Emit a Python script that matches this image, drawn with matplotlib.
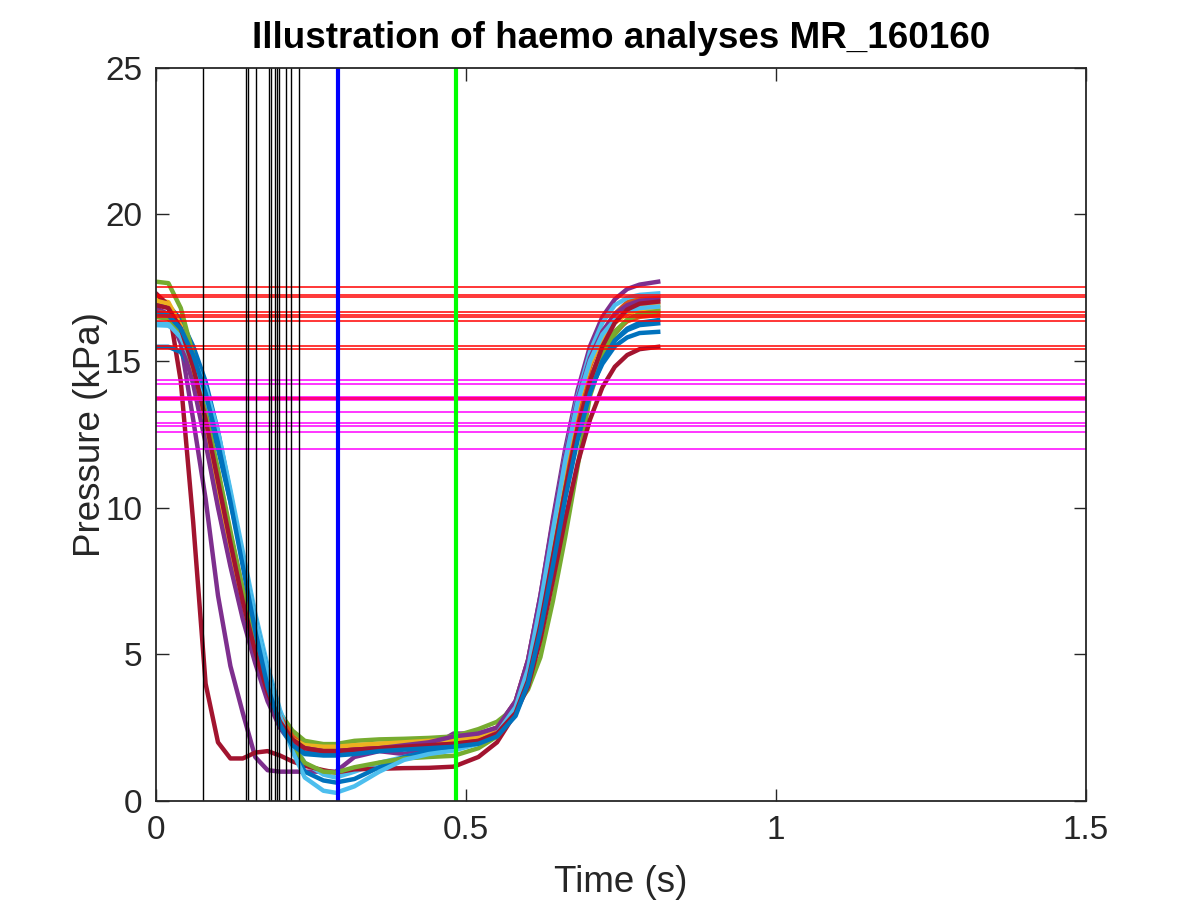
import matplotlib
matplotlib.use("Agg")
import matplotlib.pyplot as plt

# Time grid (s) shared by all the pressure traces
t = [0.00, 0.02, 0.04, 0.06, 0.08, 0.10, 0.12, 0.14, 0.16, 0.18,
     0.20, 0.22, 0.24, 0.27, 0.29, 0.32, 0.36, 0.40, 0.44, 0.48,
     0.52, 0.55, 0.58, 0.60, 0.62, 0.64, 0.66, 0.68, 0.70, 0.72,
     0.74, 0.76, 0.78, 0.81]

# Pressure traces (kPa), one per beat
beat_01 = [16.96, 16.9, 16.4, 15.5, 14.3, 12.6, 10.5, 8.2, 5.6, 3.7,
           2.5, 1.9, 1.65, 1.6, 1.6, 1.7, 1.75, 1.8, 1.85, 1.9,
           2.0, 2.3, 3.1, 4.2, 6.0, 8.3, 10.6, 12.6, 14.1, 15.1,
           15.7, 16.1, 16.3, 16.39]
beat_02 = [16.5, 16.45, 15.8, 14.5, 12.8, 10.8, 8.8, 6.9, 5.2, 3.8,
           2.8, 2.2, 1.9, 1.8, 1.8, 1.85, 1.9, 1.95, 2.0, 2.05,
           2.2, 2.5, 3.3, 4.6, 6.5, 8.9, 11.3, 13.3, 14.8, 15.9,
           16.6, 17.0, 17.15, 17.19]
beat_03 = [17.1, 17.0, 16.2, 14.6, 12.5, 10.2, 8.2, 6.4, 4.9, 3.6,
           2.7, 2.2, 1.95, 1.85, 1.85, 1.9, 1.95, 2.0, 2.05, 2.1,
           2.2, 2.5, 3.4, 4.8, 6.9, 9.3, 11.6, 13.5, 14.9, 15.8,
           16.3, 16.6, 16.75, 16.79]
beat_04 = [16.79, 16.6, 15.6, 13.0, 10.3, 7.0, 4.6, 3.0, 1.5, 1.05,
           1.0, 1.0, 1.0, 1.0, 1.0, 1.5, 1.7, 1.6, 1.8, 2.3,
           2.3, 2.5, 3.4, 4.8, 7.0, 9.6, 12.0, 14.0, 15.5, 16.5,
           17.1, 17.45, 17.6, 17.7]
beat_05 = [17.7, 17.65, 16.8, 15.2, 13.3, 11.0, 9.0, 7.1, 5.4, 4.0,
           3.0, 2.4, 2.05, 1.94, 1.94, 2.05, 2.1, 2.12, 2.15, 2.2,
           2.45, 2.7, 3.2, 3.8, 4.9, 6.8, 9.0, 11.4, 13.8, 15.1,
           15.9, 16.4, 16.6, 16.68]
beat_06 = [16.22, 16.2, 15.9, 15.1, 14.1, 12.6, 10.6, 8.5, 6.4, 4.6,
           3.1, 2.0, 1.3, 0.9, 0.8, 1.0, 1.3, 1.5, 1.65, 1.8,
           2.0, 2.3, 3.3, 4.7, 6.9, 9.4, 11.8, 13.8, 15.3, 16.3,
           16.9, 17.15, 17.25, 17.3]
beat_07 = [17.3, 16.9, 14.3, 9.5, 4.0, 2.0, 1.45, 1.45, 1.65, 1.7,
           1.55, 1.35, 1.2, 1.05, 0.97, 1.08, 1.1, 1.12, 1.13, 1.17,
           1.5, 2.0, 3.0, 3.9, 5.5, 7.5, 9.6, 11.5, 13.0, 14.1,
           14.8, 15.2, 15.4, 15.48]
beat_08 = [15.48, 15.48, 15.3, 14.6, 13.5, 12.0, 10.2, 8.2, 6.2, 4.4,
           2.9, 1.8, 1.0, 0.7, 0.63, 0.75, 1.15, 1.5, 1.7, 1.85,
           2.0, 2.3, 3.1, 4.3, 6.3, 8.6, 10.8, 12.7, 14.0, 14.9,
           15.5, 15.8, 15.95, 15.99]
beat_09 = [16.68, 16.6, 16.0, 14.9, 13.2, 11.2, 9.1, 7.2, 5.5, 4.0,
           2.9, 2.2, 1.85, 1.75, 1.75, 1.8, 1.85, 1.9, 1.95, 2.0,
           2.15, 2.45, 3.2, 4.4, 6.3, 8.6, 10.9, 12.9, 14.4, 15.4,
           16.0, 16.35, 16.5, 16.56]
beat_10 = [17.05, 16.95, 16.1, 14.4, 12.3, 10.1, 8.1, 6.3, 4.8, 3.5,
           2.6, 2.1, 1.9, 1.85, 1.85, 1.9, 1.95, 2.0, 2.05, 2.1,
           2.2, 2.5, 3.3, 4.6, 6.7, 9.1, 11.5, 13.5, 15.0, 16.0,
           16.5, 16.8, 16.88, 16.91]
beat_11 = [16.68, 16.5, 15.7, 14.2, 12.2, 10.0, 8.0, 6.2, 4.7, 3.4,
           2.5, 2.0, 1.8, 1.7, 1.7, 1.75, 1.8, 1.9, 2.0, 2.2,
           2.3, 2.5, 3.4, 4.8, 7.0, 9.5, 11.8, 13.7, 15.1, 16.0,
           16.6, 16.9, 17.05, 17.1]
beat_12 = [16.5, 16.45, 15.9, 14.8, 13.2, 11.3, 9.2, 7.2, 5.4, 3.9,
           2.7, 1.9, 1.3, 1.0, 0.97, 1.15, 1.31, 1.45, 1.5, 1.54,
           1.8, 2.2, 3.0, 4.1, 6.0, 8.3, 10.6, 12.6, 14.2, 15.3,
           16.0, 16.4, 16.6, 16.7]
beat_13 = [16.3, 16.25, 15.8, 14.9, 13.8, 12.3, 10.4, 8.3, 6.2, 4.4,
           2.9, 1.7, 0.8, 0.35, 0.28, 0.5, 1.0, 1.4, 1.6, 1.72,
           1.95, 2.3, 3.2, 4.5, 6.7, 9.2, 11.6, 13.6, 15.0, 15.9,
           16.4, 16.7, 16.8, 16.85]
beat_14 = [16.9, 16.8, 16.1, 14.8, 13.0, 10.9, 8.8, 6.8, 5.1, 3.7,
           2.7, 2.1, 1.8, 1.7, 1.7, 1.75, 1.8, 1.85, 1.9, 1.95,
           2.05, 2.3, 3.0, 4.1, 6.0, 8.3, 10.6, 12.7, 14.3, 15.5,
           16.3, 16.75, 16.95, 17.02]
beat_15 = [16.6, 16.55, 16.1, 15.2, 13.9, 12.2, 10.2, 8.0, 5.8, 3.9,
           2.6, 1.9, 1.6, 1.55, 1.55, 1.6, 1.7, 1.75, 1.8, 1.85,
           1.95, 2.2, 2.9, 4.0, 5.8, 8.0, 10.3, 12.3, 13.9, 15.0,
           15.7, 16.05, 16.22, 16.28]

beats = [beat_01, beat_02, beat_03, beat_04, beat_05, beat_06, beat_07, beat_08,
         beat_09, beat_10, beat_11, beat_12, beat_13, beat_14, beat_15]

# Detected levels (kPa) and events (s)
red_levels = [17.53, 17.25, 17.17, 16.68, 16.56, 16.50, 16.37, 15.51, 15.40]
magenta_levels = [14.34, 14.21, 13.76, 13.68, 13.26, 12.87, 12.77, 12.58, 11.99]
pink_levels = [13.72]
black_times = [0.0753, 0.145, 0.148, 0.161, 0.183, 0.185, 0.192, 0.195,
               0.199, 0.210, 0.218, 0.231]
blue_time = 0.293
green_time = 0.484

# MATLAB default colour order
matlab_colors = [(0, 0.447, 0.741), (0.85, 0.325, 0.098), (0.929, 0.694, 0.125),
                 (0.494, 0.184, 0.556), (0.466, 0.674, 0.188), (0.301, 0.745, 0.933),
                 (0.635, 0.078, 0.184)]

plt.rcParams['font.family'] = ['Liberation Sans', 'DejaVu Sans']
axcol = (0.15, 0.15, 0.15)

fig = plt.figure(figsize=(12, 9), dpi=100)
ax = fig.add_axes([0.13, 0.11, 0.775, 0.815])

# pressure traces
for i, p in enumerate(beats):
    ax.plot(t, p, color=matlab_colors[i % 7], linewidth=3.2, solid_joinstyle='round')

# horizontal levels
for y in red_levels:
    ax.axhline(y, color=(1, 0, 0), linewidth=1.1)
for y in magenta_levels:
    ax.axhline(y, color=(1, 0, 1), linewidth=1.1)
for y in pink_levels:
    ax.axhline(y, color=(1, 0, 0.5), linewidth=2.2)

# vertical events
for x in black_times:
    ax.axvline(x, color='k', linewidth=1.0)
ax.axvline(blue_time, color=(0, 0, 1), linewidth=3)
ax.axvline(green_time, color=(0, 1, 0), linewidth=3)

ax.set_xlim(0, 1.5)
ax.set_ylim(0, 25)
ax.set_xticks([0, 0.5, 1, 1.5])
ax.set_xticklabels(['0', '0.5', '1', '1.5'])
ax.set_yticks([0, 5, 10, 15, 20, 25])
ax.tick_params(direction='in', length=9, width=1, colors=axcol, labelsize=24,
               top=True, right=True, pad=10)
for s in ax.spines.values():
    s.set_color(axcol)
    s.set_linewidth(1.3)

ax.set_xlabel('Time (s)', fontsize=26.5, color=axcol, labelpad=14)
ax.set_ylabel('Pressure (kPa)', fontsize=26.5, color=axcol, labelpad=-2)
ax.set_title('Illustration of haemo analyses MR_160160', fontsize=26.5,
             fontweight='bold', pad=14)

fig.savefig('out.png', dpi=100)
